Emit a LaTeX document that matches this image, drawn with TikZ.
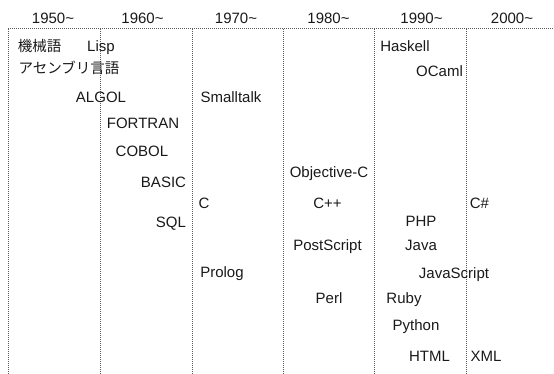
\documentclass[tikz,border=0pt]{standalone}
\usepackage{fontspec}
\setmainfont{Liberation Sans}
\newfontfamily\jpfont{Noto Sans CJK JP}
\begin{document}
\begin{tikzpicture}[x=1pt,y=-1pt,
  lbl/.style={inner sep=0pt, text height=10.7pt, text depth=0pt, font=\fontsize{15}{16}\selectfont, text=black!90},
  jlbl/.style={lbl, font=\jpfont\fontsize{14.5}{15}\selectfont},
  gridline/.style={dash pattern=on 1pt off 1pt, line width=1pt, draw=black!65}]
\useasboundingbox (0,0) rectangle (554,374);
% grid coordinates
\coordinate (t0) at (8,29);   \coordinate (b0) at (8,374);
\coordinate (t1) at (100,29); \coordinate (b1) at (100,374);
\coordinate (t2) at (192,29); \coordinate (b2) at (192,374);
\coordinate (t3) at (283,29); \coordinate (b3) at (283,374);
\coordinate (t4) at (374,29); \coordinate (b4) at (374,374);
\coordinate (t5) at (466,29); \coordinate (b5) at (466,374);
\coordinate (tr) at (554,29);
\draw[gridline] (t0) -- (tr);
\foreach \i in {0,...,5} { \draw[gridline] (t\i) -- (b\i); }
% headers
\node[lbl] (h1950) at (53,18) {1950\textasciitilde};
\node[lbl] (h1960) at (142.5,18) {1960\textasciitilde};
\node[lbl] (h1970) at (236,18) {1970\textasciitilde};
\node[lbl] (h1980) at (328.5,18) {1980\textasciitilde};
\node[lbl] (h1990) at (421.5,18) {1990\textasciitilde};
\node[lbl] (h2000) at (512,18) {2000\textasciitilde};
% languages
\node[jlbl] (kikaigo) at (39.5,46) {機械語};
\node[lbl] (lisp) at (101,46) {Lisp};
\node[jlbl] (asm) at (69,68) {アセンブリ言語};
\node[lbl] (algol) at (101,97) {ALGOL};
\node[lbl] (smalltalk) at (231,97) {Smalltalk};
\node[lbl] (fortran) at (143,123) {FORTRAN};
\node[lbl] (cobol) at (142,151) {COBOL};
\node[lbl] (basic) at (163.5,182) {BASIC};
\node[lbl] (c) at (204,203) {C};
\node[lbl] (sql) at (171,222) {SQL};
\node[lbl] (objc) at (329,172) {Objective-C};
\node[lbl] (cpp) at (327.5,203) {C++};
\node[lbl] (csharp) at (479.5,203) {C\#};
\node[lbl] (php) at (421,221) {PHP};
\node[lbl] (postscript) at (327.5,245) {PostScript};
\node[lbl] (java) at (421,245) {Java};
\node[lbl] (prolog) at (222,272) {Prolog};
\node[lbl] (javascript) at (454,273) {JavaScript};
\node[lbl] (perl) at (329,298) {Perl};
\node[lbl] (ruby) at (404,298) {Ruby};
\node[lbl] (python) at (416,325) {Python};
\node[lbl] (html) at (429.5,356) {HTML};
\node[lbl] (xml) at (486,356) {XML};
\node[lbl] (haskell) at (405,46) {Haskell};
\node[lbl] (ocaml) at (439.5,71) {OCaml};
\end{tikzpicture}
\end{document}
